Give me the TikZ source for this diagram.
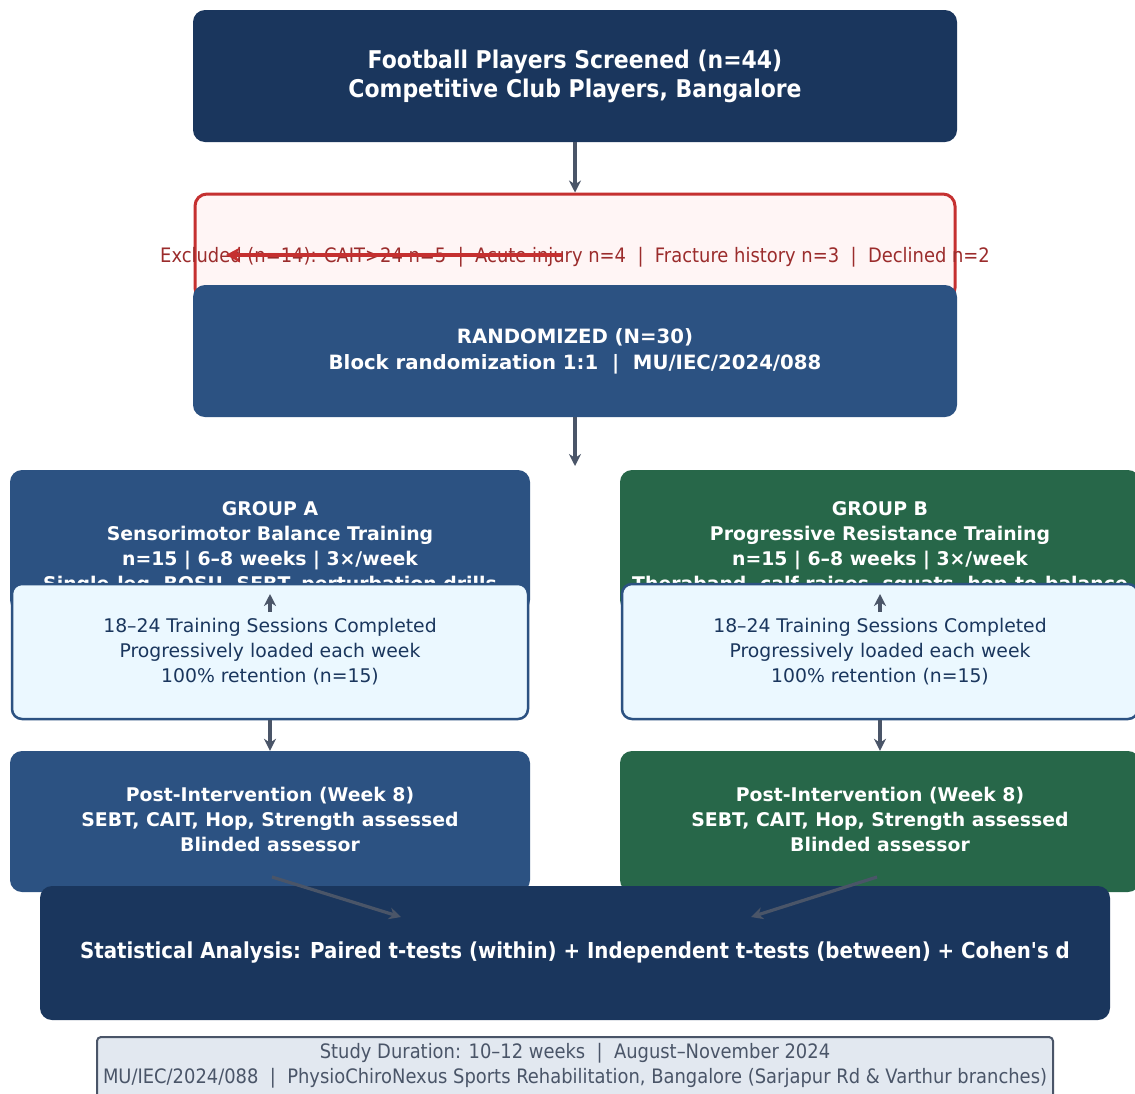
\documentclass[tikz,border=0pt]{standalone}
\usepackage{fontspec}
\setmainfont{DejaVu Sans}
\newfontfamily\fcond[FakeStretch=0.9]{DejaVu Sans}
\newfontfamily\fnorm{DejaVu Sans}
\usetikzlibrary{arrows.meta}
\definecolor{navy}{HTML}{1A365D}
\definecolor{blueb}{HTML}{2C5282}
\definecolor{greenb}{HTML}{276749}
\definecolor{lightb}{HTML}{EBF8FF}
\definecolor{redb}{HTML}{C53030}
\definecolor{redf}{HTML}{FFF5F5}
\definecolor{redt}{HTML}{9B2C2C}
\definecolor{grayb}{HTML}{E2E8F0}
\definecolor{grayd}{HTML}{4A5568}
\begin{document}
\begin{tikzpicture}[x=1pt,y=-1pt,
  box/.style={rectangle, rounded corners=12pt, inner sep=0pt, align=center, text=white},
  txt/.style={inner sep=0pt, align=center},
  titlefont/.style={font=\fcond\bfseries\fontsize{24.4}{29}\selectfont},
  groupfont/.style={font=\fnorm\bfseries\fontsize{18.85}{25}\selectfont},
  sessfont/.style={font=\fnorm\fontsize{18.8}{25}\selectfont},
  arr/.style={draw=grayd, line width=3.2pt, -{Stealth[length=12pt,width=12pt]}},
  redarr/.style={draw=redb, line width=4pt, -{Stealth[length=14pt,width=15pt]}}]
\useasboundingbox (0,0) rectangle (1135,1093);
\fill[white] (0,0) rectangle (1135,1093);

\node[box, fill=navy, minimum width=764pt, minimum height=132pt, titlefont] (top) at (575,76)
  {Football Players Screened (n=44)\\Competitive Club Players, Bangalore};

\node[box, fill=redf, draw=redb, line width=3pt, minimum width=760pt, minimum height=106pt] (excl) at (575,247) {};
\node[txt, text=redt, font=\fcond\fontsize{19.9}{24}\selectfont] (excltext) at (575,257)
  {Excluded (n=14): CAIT>24 n=5 \ | \ Acute injury n=4 \ | \ Fracture history n=3 \ | \ Declined n=2};
\coordinate (rs) at (562,255);
\coordinate (re) at (226,255);
\draw[redarr] (rs) -- (re);

\node[box, fill=blueb, minimum width=764pt, minimum height=132pt, font=\fnorm\bfseries\fontsize{19.7}{26}\selectfont] (rand) at (575,351)
  {RANDOMIZED (N=30)\\Block randomization 1:1 \ | \ MU/IEC/2024/088};

\draw[arr] (top.south) -- (excl.north);
\coordinate (split) at (575,466);
\draw[arr] (rand.south) -- (split);

\node[box, fill=blueb, minimum width=520pt, minimum height=142pt] (grpA) at (270,541) {};
\node[txt, text=white, groupfont] (grpAtext) at (270,548)
  {GROUP A\\Sensorimotor Balance Training\\n=15 | 6–8 weeks | 3×/week\\Single-leg, BOSU, SEBT, perturbation drills};
\node[box, fill=greenb, minimum width=520pt, minimum height=142pt] (grpB) at (880,541) {};
\node[txt, text=white, groupfont] (grpBtext) at (880,548)
  {GROUP B\\Progressive Resistance Training\\n=15 | 6–8 weeks | 3×/week\\Theraband, calf raises, squats, hop-to-balance};

\node[box, rounded corners=10pt, fill=lightb, draw=blueb, line width=2.5pt, text=navy, minimum width=516pt, minimum height=135pt, sessfont] (sessA) at (270,651.5)
  {18–24 Training Sessions Completed\\Progressively loaded each week\\100\% retention (n=15)};
\node[box, rounded corners=10pt, fill=lightb, draw=blueb, line width=2.5pt, text=navy, minimum width=516pt, minimum height=135pt, sessfont] (sessB) at (880,651.5)
  {18–24 Training Sessions Completed\\Progressively loaded each week\\100\% retention (n=15)};

\coordinate (upA) at (270,594);
\coordinate (upB) at (880,594);
\draw[arr] (grpA.south) -- (upA);
\draw[arr] (grpB.south) -- (upB);

\node[box, fill=blueb, minimum width=520pt, minimum height=141pt] (postA) at (270,821.5) {};
\node[txt, text=white, groupfont] (postAtext) at (270,819.5)
  {Post-Intervention (Week 8)\\SEBT, CAIT, Hop, Strength assessed\\Blinded assessor};
\node[box, fill=greenb, minimum width=520pt, minimum height=141pt] (postB) at (880,821.5) {};
\node[txt, text=white, groupfont] (postBtext) at (880,819.5)
  {Post-Intervention (Week 8)\\SEBT, CAIT, Hop, Strength assessed\\Blinded assessor};

\draw[arr] (sessA.south) -- (postA.north);
\draw[arr] (sessB.south) -- (postB.north);

\node[box, fill=navy, minimum width=1070pt, minimum height=134pt, font=\fcond\bfseries\fontsize{22}{26}\selectfont] (stats) at (575,953)
  {Statistical Analysis: Paired t-tests (within) + Independent t-tests (between) + Cohen's d};

\coordinate (sA) at (272,877);
\coordinate (tA) at (401,917);
\coordinate (sB) at (877,877);
\coordinate (tB) at (751,917);
\draw[arr] (sA) -- (tA);
\draw[arr] (sB) -- (tB);

\node[box, rounded corners=4pt, fill=grayb, draw=grayd, line width=2pt, minimum width=956pt, minimum height=62pt] (foot) at (575,1068) {};
\node[txt, text=grayd, font=\fcond\fontsize{19.9}{25}\selectfont] (foottext) at (575,1066)
  {Study Duration: 10–12 weeks \ | \ August–November 2024\\MU/IEC/2024/088 \ | \ PhysioChiroNexus Sports Rehabilitation, Bangalore (Sarjapur Rd \& Varthur branches)};
\end{tikzpicture}
\end{document}
